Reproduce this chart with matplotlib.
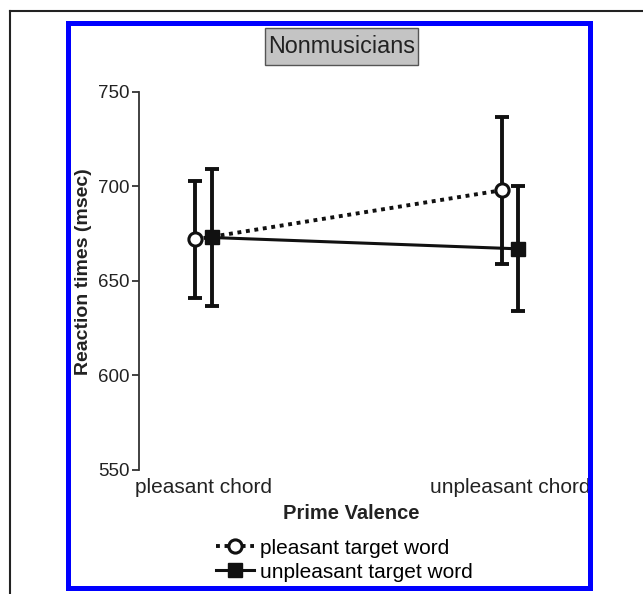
import numpy as np
import matplotlib.pyplot as plt
from matplotlib.patches import Rectangle
from matplotlib.lines import Line2D

plt.rcParams['font.family'] = ['Liberation Sans', 'DejaVu Sans']

categories = ['pleasant chord', 'unpleasant chord']
pleasant_rt = [672, 698]
pleasant_err = [31, 39]
unpleasant_rt = [673, 667]
unpleasant_err = [36, 33]
series_names = ['pleasant target word', 'unpleasant target word']
yticks = [550, 600, 650, 700, 750]

fig = plt.figure(figsize=(6.43, 5.94), dpi=100)
ax = fig.add_axes([0.2162, 0.2088, 0.678, 0.6364])

x = np.arange(len(categories))
off = 0.027
ink = '#111111'

# error bars first, markers/lines on top
ax.errorbar(x - off, pleasant_rt, yerr=pleasant_err, fmt='none', ecolor=ink,
            elinewidth=2.8, capsize=5, capthick=2.8, zorder=2)
ax.errorbar(x + off, unpleasant_rt, yerr=unpleasant_err, fmt='none', ecolor=ink,
            elinewidth=2.8, capsize=5, capthick=2.8, zorder=2)

l1, = ax.plot(x - off, pleasant_rt, color=ink, lw=2.8, ls=(0, (1, 1.2)),
              marker='o', ms=9.5, mfc='white', mec=ink, mew=2.2, zorder=4,
              label=series_names[0])
l2, = ax.plot(x + off, unpleasant_rt, color=ink, lw=2.2, ls='-',
              marker='s', ms=10.5, mfc=ink, mec=ink, zorder=3,
              label=series_names[1])

ax.set_xlim(-0.2104, 1.2121)
ax.set_ylim(550, 750)
ax.set_yticks(yticks)
ax.set_xticks(x)
ax.set_xticklabels(categories, fontsize=15, color='#222222')
ax.tick_params(axis='x', length=0, pad=6)
ax.tick_params(axis='y', labelsize=13.5, length=5, width=1.3, direction='out',
               pad=2, colors='#333333', labelcolor='#222222')
for s in ['top', 'right', 'bottom']:
    ax.spines[s].set_visible(False)
ax.spines['left'].set_linewidth(1.3)
ax.spines['left'].set_color('#333333')

ax.set_ylabel('Reaction times (msec)', fontsize=14, fontweight='bold', color='#222222')
ax.yaxis.set_label_coords(-0.108, 0.525)
ax.set_xlabel('Prime Valence', fontsize=14.5, fontweight='bold', color='#222222')
ax.xaxis.set_label_coords(0.486, -0.09)

# title in a grey box
fig.add_artist(Rectangle((265 / 643, 1 - 65 / 594), 153 / 643, 37 / 594,
                         transform=fig.transFigure, facecolor='#c4c4c4',
                         edgecolor='#555555', lw=1))
fig.text(341.5 / 643, 1 - 46.5 / 594, 'Nonmusicians', fontsize=16.8, color='#222222',
         ha='center', va='center')

fig.legend(handles=[l1, l2], loc='center', bbox_to_anchor=(0.536, 0.057),
           frameon=False, fontsize=15, handlelength=1.8, handletextpad=0.3,
           labelspacing=0.25, numpoints=1, borderpad=0)

# blue panel border and page frame
fig.add_artist(Rectangle((0.105, 0.0109), 0.9176 - 0.105, 0.9621 - 0.0109,
                         transform=fig.transFigure, fill=False, edgecolor='#0000ff', lw=3.6))
fig.add_artist(Line2D([0.01555, 1.0], [0.9815, 0.9815], transform=fig.transFigure,
                      color='#222222', lw=1.5))
fig.add_artist(Line2D([0.01555, 0.01555], [0.0, 0.9815], transform=fig.transFigure,
                      color='#222222', lw=1.5))

plt.savefig('out.png', dpi=100)
